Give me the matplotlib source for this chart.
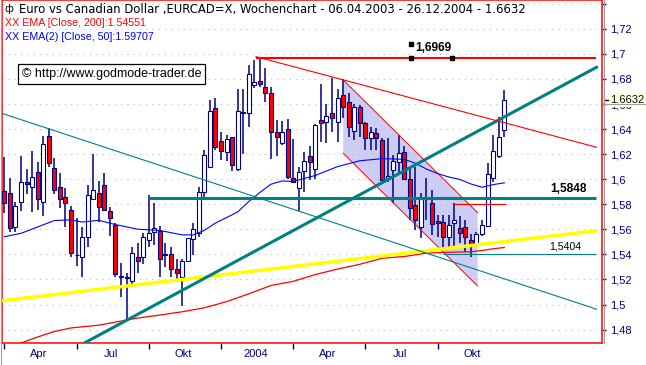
import numpy as np
import pandas as pd
import matplotlib
matplotlib.use("Agg")
import matplotlib.pyplot as plt
from matplotlib.transforms import blended_transform_factory
from matplotlib.lines import Line2D

plt.rcParams['font.family'] = ['Liberation Sans', 'DejaVu Sans']

# weekly candles EUR/CAD, 06.04.2003 - 26.12.2004
weeks = pd.date_range('2003-04-06', '2004-12-26', freq='7D')

opens = [1.5906, 1.5887, 1.5621, 1.5816, 1.5978, 1.5940, 1.6057, 1.5816, 1.6345, 1.6087,
         1.5935, 1.5856, 1.5754, 1.5392, 1.5382, 1.5536, 1.5844, 1.5890, 1.5951, 1.5746,
         1.5634, 1.5228, 1.5220, 1.5190, 1.5377, 1.5377, 1.5515, 1.5576, 1.5589, 1.5403,
         1.5403, 1.5281, 1.5217, 1.5347, 1.5520, 1.5568, 1.5900, 1.6095, 1.6566, 1.6305,
         1.6219, 1.6339, 1.6079, 1.6536, 1.6531, 1.6749, 1.6784, 1.6733, 1.6685, 1.6374,
         1.6286, 1.6398, 1.6012, 1.5927, 1.6068, 1.6185, 1.6079, 1.6472, 1.6459, 1.6526,
         1.6459, 1.6672, 1.6614, 1.6387, 1.6574, 1.6446, 1.6326, 1.6366, 1.6313, 1.6007,
         1.6073, 1.6140, 1.6219, 1.5999, 1.5794, 1.5621, 1.5850, 1.5808, 1.5664, 1.5661,
         1.5536, 1.5653, 1.5608, 1.5616, 1.5515, 1.5475, 1.5563, 1.5627, 1.6010, 1.6185,
         1.6393]
highs = [1.6175, 1.6010, 1.5815, 1.6185, 1.6081, 1.6225, 1.6135, 1.6347, 1.6406, 1.6167,
         1.6052, 1.5927, 1.5786, 1.5688, 1.5616, 1.5954, 1.6199, 1.5986, 1.6047, 1.5781,
         1.5648, 1.5334, 1.5254, 1.5461, 1.5488, 1.5568, 1.5874, 1.5808, 1.5627, 1.5488,
         1.5457, 1.5361, 1.5361, 1.5533, 1.5648, 1.5940, 1.6233, 1.6632, 1.6646, 1.6379,
         1.6353, 1.6339, 1.6717, 1.6717, 1.6911, 1.6950, 1.6969, 1.6885, 1.6733, 1.6472,
         1.6464, 1.6480, 1.6318, 1.6100, 1.6219, 1.6267, 1.6440, 1.6757, 1.6598, 1.6810,
         1.6720, 1.6797, 1.6685, 1.6598, 1.6592, 1.6459, 1.6419, 1.6406, 1.6331, 1.6326,
         1.6193, 1.6353, 1.6265, 1.6100, 1.6100, 1.5887, 1.6007, 1.5914, 1.5714, 1.5714,
         1.5714, 1.5808, 1.5706, 1.5674, 1.5560, 1.5575, 1.5674, 1.6127, 1.6353, 1.6500,
         1.6712]
lows = [1.5728, 1.5581, 1.5581, 1.5749, 1.5882, 1.5741, 1.5754, 1.5706, 1.6100, 1.5879,
        1.5768, 1.5621, 1.5382, 1.5310, 1.5222, 1.5461, 1.5834, 1.5658, 1.5749, 1.5547,
        1.5222, 1.5062, 1.4882, 1.5164, 1.5254, 1.5323, 1.5461, 1.5475, 1.5222, 1.5302,
        1.5222, 1.5182, 1.4988, 1.5342, 1.5395, 1.5541, 1.5834, 1.6087, 1.6233, 1.6153,
        1.6148, 1.6068, 1.6068, 1.6201, 1.6419, 1.6725, 1.6733, 1.6618, 1.6159, 1.6185,
        1.6273, 1.6000, 1.5967, 1.5746, 1.5895, 1.5994, 1.5999, 1.6299, 1.6286, 1.6379,
        1.6299, 1.6488, 1.6339, 1.6313, 1.6339, 1.6233, 1.6233, 1.6233, 1.5986, 1.5980,
        1.5808, 1.6047, 1.5990, 1.5674, 1.5595, 1.5528, 1.5674, 1.5555, 1.5541, 1.5449,
        1.5449, 1.5461, 1.5488, 1.5421, 1.5382, 1.5465, 1.5547, 1.5621, 1.5980, 1.6167,
        1.6334]
closes = [1.5808, 1.5613, 1.5786, 1.5975, 1.5959, 1.6015, 1.5840, 1.6281, 1.6127, 1.5911,
          1.5840, 1.5808, 1.5413, 1.5396, 1.5539, 1.5872, 1.5914, 1.5782, 1.5754, 1.5688,
          1.5241, 1.5216, 1.5213, 1.5409, 1.5345, 1.5536, 1.5568, 1.5608, 1.5361, 1.5393,
          1.5281, 1.5254, 1.5347, 1.5528, 1.5600, 1.5900, 1.6191, 1.6544, 1.6255, 1.6227,
          1.6318, 1.6113, 1.6544, 1.6528, 1.6839, 1.6773, 1.6757, 1.6685, 1.6374, 1.6334,
          1.6374, 1.6015, 1.5975, 1.6055, 1.6145, 1.6140, 1.6432, 1.6446, 1.6504, 1.6491,
          1.6646, 1.6579, 1.6414, 1.6574, 1.6446, 1.6326, 1.6379, 1.6331, 1.5994, 1.6026,
          1.6145, 1.6211, 1.5999, 1.5768, 1.5674, 1.5840, 1.5846, 1.5642, 1.5653, 1.5536,
          1.5634, 1.5674, 1.5573, 1.5541, 1.5483, 1.5560, 1.5634, 1.6039, 1.6225, 1.6339,
          1.6632]

# indicator lines (week index, value)
ema50_wk = [0, 3, 6, 9, 12, 14, 17, 20, 24, 28, 32, 34, 36, 38, 40, 42, 44, 46, 48, 50,
            52, 56, 60, 64, 68, 72, 74, 76, 78, 80, 82, 84, 86, 88, 90]
ema50 = [1.5541, 1.5568, 1.5619, 1.5670, 1.5676, 1.5658, 1.5672, 1.5638, 1.5601, 1.5591,
         1.5556, 1.5555, 1.5592, 1.5650, 1.5694, 1.5738, 1.5822, 1.5894, 1.5960, 1.5986,
         1.5982, 1.6030, 1.6101, 1.6147, 1.6164, 1.6159, 1.6127, 1.6081, 1.6045, 1.6018,
         1.5998, 1.5962, 1.5936, 1.5957, 1.5971]
ema200_wk = [0, 3, 6, 9, 12, 17, 20, 24, 28, 32, 36, 40, 44, 48, 52, 56, 60, 64, 68, 72,
             76, 80, 84, 86, 88, 90]
ema200 = [1.4645, 1.4693, 1.4741, 1.4785, 1.4813, 1.4835, 1.4860, 1.4892, 1.4916, 1.4942,
          1.4974, 1.5023, 1.5085, 1.5152, 1.5185, 1.5239, 1.5283, 1.5321, 1.5369, 1.5383,
          1.5410, 1.5417, 1.5421, 1.5431, 1.5445, 1.5455]

# drawn trend lines
down_teal = ([-0.47, 106.6], [1.6526, 1.4963])
up_teal = ([14.5, 106.6], [1.4695, 1.6893])
yellow = ([-0.47, 106.6], [1.5030, 1.5589])
down_red = ([45.3, 106.6], [1.6978, 1.6255])
chan_x = [61.0, 61.0, 85.2, 85.2]
chan_y = [1.6792, 1.6207, 1.5148, 1.5733]
high_lvl, res_lvl, sup_lvl, short_lvl = 1.6969, 1.5848, 1.5404, 1.5802

NAVY = '#000080'
TEAL = '#008080'

fig = plt.figure(figsize=(6.46, 3.65), dpi=100)
ax = fig.add_axes([2 / 646, 22.5 / 365, 599.7 / 646, 342.5 / 365])
ax.set_xlim(-0.414, 107.54)
ax.set_ylim(1.4697, 1.7430)

yt = np.round(np.arange(1.48, 1.741, 0.02), 2)
ylab = [f"{v:.2f}".rstrip('0').rstrip('.').replace('.', ',') for v in yt]
ylab[-1] = ''
ax.yaxis.tick_right()
ax.set_yticks(yt, ylab)
ax.tick_params(axis='y', direction='out', length=3, width=1, colors=NAVY,
               labelsize=8, pad=3)
ax.grid(axis='y', color='#b8b8b8', linestyle=(0, (1, 5)), lw=0.75, zorder=0)

# quarter ticks, labels in the middle of the quarter
qi = [i for i, d in enumerate(weeks) if d.month in (1, 4, 7, 10) and d.day <= 7]
qlab = [str(weeks[i].year) if weeks[i].month == 1 else
        {4: 'Apr', 7: 'Jul', 10: 'Okt'}[weeks[i].month] for i in qi]
ax.set_xticks(qi, [''] * len(qi))
ax.set_xticks([i + 6.2 for i in qi], qlab, minor=True)
ax.tick_params(axis='x', which='major', direction='out', length=4, width=1, colors=NAVY)
ax.tick_params(axis='x', which='minor', length=0, labelsize=8, colors=NAVY, pad=5)

for s in ax.spines.values():
    s.set_color('#ff0000')
    s.set_linewidth(1.1)

# channel
ax.fill(chan_x, chan_y, color='#c4c4f4', alpha=0.85, lw=0, zorder=1)
ax.plot(chan_x[0::3], [chan_y[0], chan_y[3]], color='red', lw=0.7, zorder=7)
ax.plot(chan_x[1:3], chan_y[1:3], color='red', lw=0.7, zorder=7)

# candles
x = np.arange(len(opens))
o, h, l, c = map(np.array, (opens, highs, lows, closes))
ax.vlines(x, l, h, color=NAVY, lw=1.1, zorder=5)
ax.bar(x, np.maximum(np.abs(c - o), 0.0004), bottom=np.minimum(o, c), width=0.72,
       color=np.where(c >= o, 'white', '#ff0000'), edgecolor=NAVY, linewidth=0.8, zorder=6)

# moving averages
ax.plot(ema200_wk, ema200, color='#ff0000', lw=0.9, zorder=7)
ax.plot(ema50_wk, ema50, color='#0000ff', lw=0.8, zorder=7)

# trend lines
ax.plot(*yellow, color='#ffff00', lw=2.5, zorder=7)
ax.plot(*down_teal, color=TEAL, lw=0.8, zorder=8)
ax.plot(*up_teal, color=TEAL, lw=2.2, zorder=8)
ax.plot(*down_red, color='#ff0000', lw=0.8, zorder=8)
ax.hlines(high_lvl, 45.3, 106.6, color='#ff0000', lw=1.5, zorder=8)
ax.hlines(res_lvl, 26, 106.6, color=TEAL, lw=2.2, zorder=8)
ax.hlines(sup_lvl, 79, 106.6, color=TEAL, lw=0.8, zorder=8)
ax.hlines(short_lvl, 81, 90.3, color='#ff0000', lw=0.9, zorder=8)

ax.annotate('1,6969', xy=(77.2, high_lvl), xytext=(0, 2.5), textcoords='offset points',
            ha='center', va='bottom', fontsize=8.6, fontweight='bold', zorder=10)
ax.plot([73.2, 73.2, 80.6], [high_lvl + 0.011, high_lvl, high_lvl], 's', color='black',
        ms=2.4, zorder=10)
ax.annotate('1,5848', xy=(104.9, res_lvl), xytext=(0, 2.5), textcoords='offset points',
            ha='right', va='bottom', fontsize=8.6, fontweight='bold', zorder=10)
ax.annotate('1,5404', xy=(103.8, sup_lvl), xytext=(0, 1.5), textcoords='offset points',
            ha='right', va='bottom', fontsize=7.6, zorder=10)

# header
ax.text(0.0117, 0.9737, '\u0444', transform=ax.transAxes, fontsize=7.5, ha='center',
        va='center', family=['DejaVu Sans'])
ax.text(0.0284, 0.9737,
        'Euro vs Canadian Dollar ,EURCAD=X, Wochenchart - 06.04.2003 - 26.12.2004 - 1.6632',
        transform=ax.transAxes, fontsize=8.4, ha='left', va='center',
        family=['DejaVu Sans'])
ax.text(0.005, 0.932, 'XX EMA [Close, 200]:1.54551', transform=ax.transAxes,
        fontsize=7.7, ha='left', va='center', color='#ff0000')
ax.text(0.005, 0.891, 'XX EMA(2) [Close, 50]:1.59707', transform=ax.transAxes,
        fontsize=7.7, ha='left', va='center', color='#0000ff')
ax.text(0.1834, 0.7845, '\u00a9 http://www.godmode-trader.de', transform=ax.transAxes,
        fontsize=9, ha='center', va='center', zorder=10,
        bbox=dict(boxstyle='square,pad=0.3', fc='white', ec='black', lw=0.9))

# last price box on the axis
bt = blended_transform_factory(ax.transAxes, ax.transData)
ax.text(1.0138, closes[-1], '1.6632', transform=bt, fontsize=8, ha='left', va='center',
        color='#101010', zorder=20, clip_on=False,
        bbox=dict(boxstyle='square,pad=0.2', fc='#ffffe1', ec='none'))
ax.plot([1.003, 1.08], [closes[-1] - 0.0034] * 2, transform=bt, color='#a0a0a0',
        lw=0.8, clip_on=False, zorder=21)
ax.plot([1.006, 1.011], [closes[-1]] * 2, transform=bt, color=NAVY, lw=1,
        clip_on=False, zorder=21)

fig.add_artist(Line2D([603.5 / 646] * 2, [22.5 / 365, 1], color='#a0a0a0', lw=0.8))
fig.add_artist(Line2D([0.5 / 646] * 2, [0, 1], color='#a0a0a0', lw=0.8))

fig.savefig('out.png', dpi=100)
